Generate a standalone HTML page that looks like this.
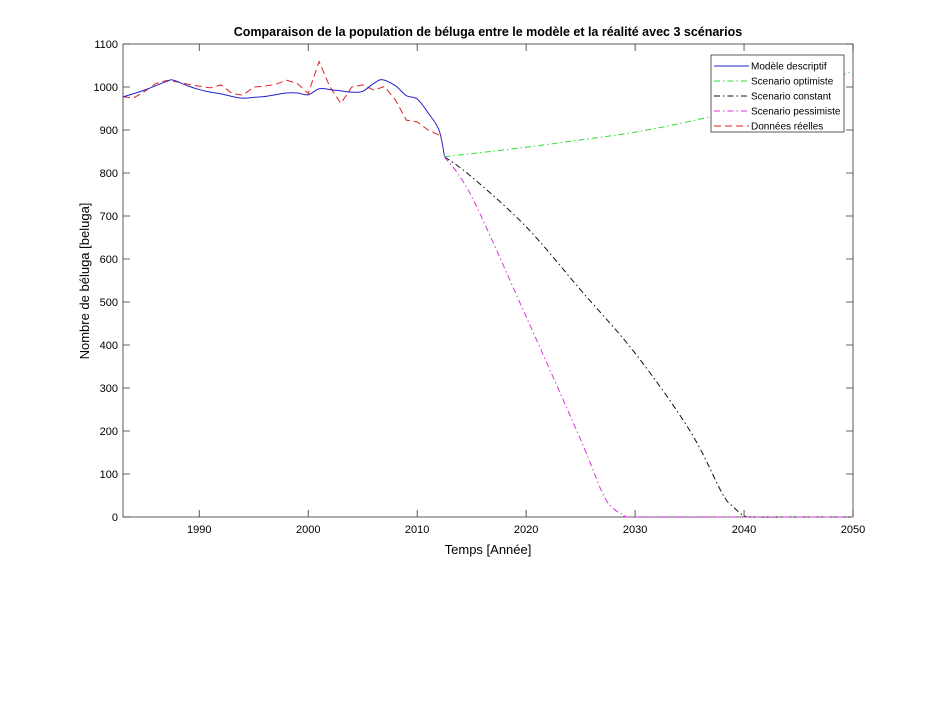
<!DOCTYPE html>
<html><head><meta charset="utf-8"><style>
body{margin:0;background:#fff;width:944px;height:720px;overflow:hidden}
svg{font-family:"Liberation Sans",Arial,sans-serif}
</style></head><body>
<svg id="chart" width="944" height="720">
<rect width="944" height="720" fill="#fff"/>
<text x="488" y="36" text-anchor="middle" font-size="12.5" font-weight="bold">Comparaison de la population de béluga entre le modèle et la réalité avec 3 scénarios</text>
<g id="axes"></g>
<g id="series"></g>
<text x="488" y="554" text-anchor="middle" font-size="13">Temps [Année]</text>
<text transform="translate(89,281) rotate(-90)" text-anchor="middle" font-size="13">Nombre de béluga [beluga]</text>
<g>
<rect x="711" y="55" width="133" height="77" fill="#fff" stroke="#333" stroke-width="0.8"/>
<g id="legend-items"></g>
</g>
</svg>
<script>
const xTicks=[1990,2000,2010,2020,2030,2040,2050];
const yTicks=[0,100,200,300,400,500,600,700,800,900,1000,1100];
const realYears=[1983,1984,1985,1986,1987,1988,1989,1990,1991,1992,1993,1994,1995,1996,1997,1998,1999,2000,2001,2002,2003,2004,2005,2006,2007,2008,2009,2010,2011,2012];
const realValues=[977,975,990,1008,1015,1012,1006,1002,998,1005,985,981,1000,1002,1006,1016,1008,985,1059,1000,962,1000,1005,993,1001,970,923,919,900,888];
const modelYears=[1983,1985,1987,1987.6,1989,1990,1991,1992,1993,1994,1995,1996,1997,1998,1999,2000,2001,2002,2003,2004,2005,2006,2006.8,2008,2009,2010,2011,2012,2012.5];
const modelValues=[977,993,1013,1016,1002,994,988,984,978,974,976,978,982,986,986,982,996,994,991,988,990,1008,1017,1003,980,972,940,900,840];
const optYears=[2012.5,2015,2020,2025,2030,2035,2040,2045,2050];
const optValues=[838,845,860,877,895,920,951,988,1038];
const constYears=[2012.5,2015,2020,2025,2030,2035,2038,2039,2040,2041,2045,2050];
const constValues=[838,791,675,528,381,202,55,24,3,0,0,0];
const pessYears=[2012.5,2015,2020,2025,2027,2028,2029,2030,2040,2050];
const pessValues=[838,745,466,180,56,20,5,0,0,0];
const X0=123,X1=853,Y0=517,Y1=44;
const xs=v=>X0+(v-1983)/(2050-1983)*(X1-X0);
const ys=v=>Y0-v/1100*(Y0-Y1);
const NS="http://www.w3.org/2000/svg";
function mk(t,a,p){const e=document.createElementNS(NS,t);for(const k in a)e.setAttribute(k,a[k]);p.appendChild(e);return e;}
const ax=document.getElementById('axes');
for(const t of xTicks){const x=xs(t);
 const l=mk('path',{d:`M${x},${Y0}v-7M${x},${Y1}v7`,stroke:'#333','stroke-width':0.8},ax);
 
 const tx=mk('text',{x:x,y:Y0+16,'text-anchor':'middle','font-size':11},ax);tx.textContent=t;
 }
for(const t of yTicks){const y=ys(t);
 const l=mk('path',{d:`M${X0},${y}h7M${X1},${y}h-7`,stroke:'#333','stroke-width':0.8},ax);
 
 const tx=mk('text',{x:X0-5,y:y+4,'text-anchor':'end','font-size':11},ax);tx.textContent=t;
 }
const frame=mk('rect',{x:X0,y:Y1,width:X1-X0,height:Y0-Y1,fill:'none',stroke:'#333','stroke-width':0.8},ax);

function smooth(px,py){const p=px.map((v,i)=>[xs(v),ys(py[i])]);let d=`M${p[0][0]},${p[0][1]}`;
 for(let i=0;i<p.length-1;i++){const a=p[i-1]||p[i],b=p[i],c=p[i+1],e=p[i+2]||c;
  d+=`C${b[0]+(c[0]-a[0])/6},${b[1]+(c[1]-a[1])/6} ${c[0]-(e[0]-b[0])/6},${c[1]-(e[1]-b[1])/6} ${c[0]},${c[1]}`;}return d;}
function poly(px,py){return px.map((v,i)=>(i?'L':'M')+xs(v)+','+ys(py[i])).join('');}
const sg=document.getElementById('series');
const S=[
 {n:'scenario-optimiste',d:smooth(optYears,optValues),c:'#33dd33',da:'6 3 1.5 3',lab:'Scenario optimiste'},
 {n:'scenario-constant',d:smooth(constYears,constValues),c:'#111',da:'6 3 1.5 3',lab:'Scenario constant'},
 {n:'scenario-pessimiste',d:smooth(pessYears,pessValues),c:'#dd33dd',da:'6 3 1.5 3',lab:'Scenario pessimiste'},
 {n:'donnees-reelles',d:poly(realYears,realValues),c:'#dd2222',da:'7 4',lab:'Données réelles'},
 {n:'modele-descriptif',d:smooth(modelYears,modelValues),c:'#2222cc',da:'',lab:'Modèle descriptif'}];
for(const s of S){const e=mk('path',{d:s.d,fill:'none',stroke:s.c,'stroke-width':1,'stroke-dasharray':s.da},sg);
 }
const order=[4,0,1,2,3];const lg=document.getElementById('legend-items');
order.forEach((k,i)=>{const s=S[k];const y=66+i*15;
 const g=mk('g',{},lg);
 mk('line',{x1:714,x2:749,y1:y,y2:y,stroke:s.c,'stroke-width':1,'stroke-dasharray':s.da},g);
 const t=mk('text',{x:751,y:y+3.5,'font-size':10},g);t.textContent=s.lab;});
</script>
</body></html>
